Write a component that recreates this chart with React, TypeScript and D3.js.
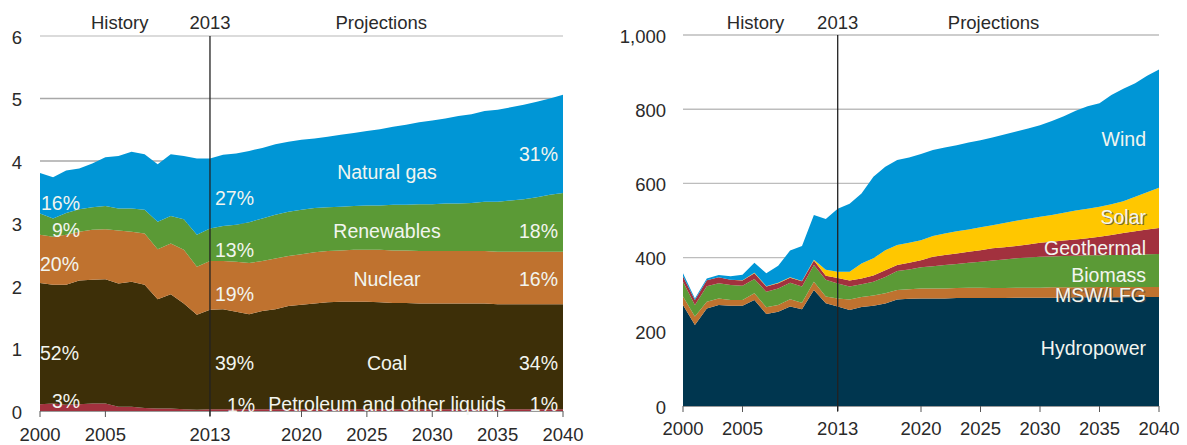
import React, { useRef, useEffect } from 'react';
import * as d3 from 'd3';

// years 2000-2040 (history to 2013, projections after)
const years = d3.range(2000, 2041);

// left panel: electricity generation by fuel (trillion kWh)
const petroleum = [0.11, 0.12, 0.10, 0.11, 0.12, 0.12, 0.07, 0.07, 0.05, 0.04, 0.04, 0.03, 0.02, 0.03,
  0.03, 0.03, 0.03, 0.03, 0.03, 0.03, 0.03, 0.03, 0.03, 0.03, 0.03, 0.03, 0.03, 0.03, 0.03, 0.03, 0.03,
  0.03, 0.03, 0.03, 0.03, 0.03, 0.03, 0.03, 0.03, 0.03, 0.03];
const coal = [1.94, 1.90, 1.92, 1.98, 1.98, 1.99, 1.97, 2.00, 1.97, 1.75, 1.83, 1.69, 1.52, 1.59,
  1.60, 1.56, 1.52, 1.57, 1.60, 1.65, 1.67, 1.69, 1.71, 1.72, 1.72, 1.72, 1.71, 1.70, 1.70, 1.69, 1.69,
  1.69, 1.69, 1.69, 1.69, 1.68, 1.68, 1.68, 1.68, 1.68, 1.68];
const nuclear = [0.77, 0.77, 0.80, 0.78, 0.80, 0.80, 0.85, 0.80, 0.82, 0.80, 0.81, 0.86, 0.77, 0.78,
  0.77, 0.80, 0.82, 0.80, 0.81, 0.80, 0.81, 0.82, 0.82, 0.82, 0.83, 0.83, 0.84, 0.84, 0.84, 0.84, 0.84,
  0.84, 0.84, 0.84, 0.84, 0.84, 0.84, 0.84, 0.84, 0.84, 0.84];
const renewables = [0.34, 0.29, 0.35, 0.36, 0.36, 0.37, 0.35, 0.37, 0.38, 0.44, 0.44, 0.49, 0.51, 0.52,
  0.56, 0.59, 0.65, 0.68, 0.70, 0.71, 0.71, 0.71, 0.70, 0.70, 0.70, 0.71, 0.71, 0.73, 0.73, 0.75, 0.75,
  0.76, 0.76, 0.77, 0.79, 0.80, 0.82, 0.84, 0.87, 0.91, 0.94];
const naturalGas = [0.65, 0.66, 0.68, 0.65, 0.70, 0.78, 0.84, 0.91, 0.89, 0.92, 0.99, 1.01, 1.22, 1.12,
  1.14, 1.14, 1.14, 1.13, 1.13, 1.12, 1.12, 1.11, 1.13, 1.15, 1.17, 1.19, 1.22, 1.25, 1.28, 1.31, 1.34,
  1.36, 1.40, 1.42, 1.45, 1.47, 1.49, 1.51, 1.53, 1.54, 1.57];

// right panel: renewable generation by type (billion kWh)
const hydropower = [272, 218, 263, 272, 270, 270, 286, 248, 254, 268, 261, 313, 277, 268,
  259, 267, 270, 276, 287, 289, 290, 290, 290, 291, 291, 291, 291, 291, 292, 292, 292,
  292, 292, 293, 293, 293, 293, 293, 294, 294, 294];
const mswLfg = [23, 23, 18, 18, 16, 16, 18, 18, 18, 20, 17, 22, 18, 22,
  28, 27, 28, 28, 26, 26, 27, 27, 27, 27, 28, 28, 27, 27, 27, 27, 27,
  28, 28, 27, 27, 28, 28, 28, 27, 27, 27];
const biomass = [40, 31, 42, 41, 40, 38, 38, 42, 45, 44, 44, 45, 45, 40,
  35, 34, 37, 44, 51, 53, 57, 60, 63, 65, 67, 70, 74, 77, 79, 81, 83,
  83, 84, 85, 86, 85, 86, 86, 87, 88, 89];
const geothermal = [15, 14, 16, 16, 14, 14, 16, 14, 14, 14, 14, 12, 11, 15,
  16, 16, 17, 18, 16, 18, 19, 25, 27, 28, 30, 31, 33, 33, 33, 35, 38,
  40, 42, 44, 46, 50, 54, 59, 63, 67, 70];
const solar = [0, 0, 0, 0, 0, 1, 1, 1, 1, 1, 1, 2, 16, 17,
  24, 40, 46, 54, 54, 54, 54, 56, 58, 60, 60, 62, 62, 65, 68, 70, 70,
  72, 75, 78, 80, 81, 83, 86, 93, 100, 108];
const wind = [8, 4, 5, 6, 10, 15, 27, 35, 46, 72, 94, 121, 137, 170,
  183, 189, 220, 225, 229, 230, 232, 232, 232, 232, 234, 234, 237, 239, 241, 243, 247,
  253, 260, 269, 276, 279, 294, 303, 306, 314, 319];

const leftSeries = [
  { key: 'petroleum', values: petroleum, color: '#a2313e' },
  { key: 'coal', values: coal, color: '#3d2f08' },
  { key: 'nuclear', values: nuclear, color: '#bf722f' },
  { key: 'renewables', values: renewables, color: '#5b9a36' },
  { key: 'naturalGas', values: naturalGas, color: '#0096d6' },
];
const rightSeries = [
  { key: 'hydropower', values: hydropower, color: '#00364f' },
  { key: 'mswLfg', values: mswLfg, color: '#bf722f' },
  { key: 'biomass', values: biomass, color: '#5b9a36' },
  { key: 'geothermal', values: geothermal, color: '#a2313e' },
  { key: 'solar', values: solar, color: '#ffc700' },
  { key: 'wind', values: wind, color: '#0096d6' },
];

const leftTicks = [0, 1, 2, 3, 4, 5, 6];
const rightTicks = [0, 200, 400, 600, 800, 1000];
const xTicks = [2000, 2005, 2013, 2020, 2025, 2030, 2035, 2040];

const FONT = '"Liberation Sans", Arial, sans-serif';
const DARK = '#2a2a2a';
const LABEL = '#f2f5ef';

const App = () => {
  const svgRef = useRef(null);

  useEffect(() => {
    const svg = d3.select(svgRef.current);
    svg.selectAll('*').remove();

    const drawPanel = (cfg) => {
      const { series, x, y, ticks, tickFormat, yLabelX, xLabelY, gridColor } = cfg;
      const g = svg.append('g');
      const rows = years.map((yr, i) => {
        const r = { year: yr };
        series.forEach(s => { r[s.key] = s.values[i]; });
        return r;
      });

      // gridlines
      ticks.filter(t => t > 0).forEach(t => {
        g.append('line')
          .attr('x1', x(2000)).attr('x2', x(2040))
          .attr('y1', y(t)).attr('y2', y(t))
          .attr('stroke', gridColor(t)).attr('stroke-width', 1.4);
      });

      const stack = d3.stack().keys(series.map(s => s.key))(rows);
      const area = d3.area()
        .x(d => x(d.data.year))
        .y0(d => y(d[0]))
        .y1(d => y(d[1]));
      g.selectAll('.layer')
        .data(stack)
        .enter()
        .append('path')
        .attr('d', area)
        .attr('fill', (d, i) => series[i].color);

      // bottom axis
      g.append('line')
        .attr('x1', x(2000)).attr('x2', x(2040))
        .attr('y1', y(0) + 0.5).attr('y2', y(0) + 0.5)
        .attr('stroke', '#999').attr('stroke-width', 1);
      xTicks.forEach(t => {
        g.append('line')
          .attr('x1', x(t)).attr('x2', x(t))
          .attr('y1', y(0)).attr('y2', y(0) + 6)
          .attr('stroke', '#555').attr('stroke-width', 1);
        g.append('text')
          .attr('x', x(t)).attr('y', xLabelY)
          .attr('text-anchor', 'middle').attr('dominant-baseline', 'central')
          .attr('font-family', FONT).attr('font-size', 18.5).attr('fill', DARK)
          .text(t);
      });

      ticks.forEach(t => {
        g.append('text')
          .attr('x', yLabelX).attr('y', y(t) + 1)
          .attr('text-anchor', 'end').attr('dominant-baseline', 'central')
          .attr('font-family', FONT).attr('font-size', 18.5).attr('fill', DARK)
          .text(tickFormat(t));
      });

      // 2013 divider
      g.append('line')
        .attr('x1', x(2013)).attr('x2', x(2013))
        .attr('y1', y(ticks[ticks.length - 1])).attr('y2', y(0) + 5)
        .attr('stroke', '#222').attr('stroke-width', 1.3);

      const header = [['History', 2006.1], ['2013', 2013], ['Projections', 2026.1]];
      header.forEach(([txt, yr]) => {
        g.append('text')
          .attr('x', x(yr)).attr('y', 22)
          .attr('text-anchor', 'middle').attr('dominant-baseline', 'central')
          .attr('font-family', FONT).attr('font-size', 18.5).attr('fill', DARK)
          .text(txt);
      });
      return g;
    };

    const label = (g, txt, px, py, anchor, shadow = false) => {
      if (shadow) {
        g.append('text')
          .attr('x', px + 1.2).attr('y', py + 1.2)
          .attr('text-anchor', anchor).attr('dominant-baseline', 'central')
          .attr('font-family', FONT).attr('font-size', 19.5).attr('fill', '#444').attr('opacity', 0.7)
          .text(txt);
      }
      g.append('text')
        .attr('x', px).attr('y', py)
        .attr('text-anchor', anchor).attr('dominant-baseline', 'central')
        .attr('font-family', FONT).attr('font-size', 19.5).attr('fill', LABEL)
        .text(txt);
    };

    // left panel
    const xL = d3.scaleLinear().domain([2000, 2040]).range([40, 563]);
    const yL = d3.scaleLinear().domain([0, 6]).range([411, 36]);
    const gL = drawPanel({
      series: leftSeries, x: xL, y: yL, ticks: leftTicks,
      tickFormat: d3.format('d'), yLabelX: 22, xLabelY: 434,
      gridColor: t => (t === 6 ? '#cfcfcf' : '#a8a8a8'),
    });
    label(gL, '16%', 41, 203, 'start');
    label(gL, '9%', 52, 230, 'start');
    label(gL, '20%', 40, 264, 'start');
    label(gL, '52%', 40, 353, 'start');
    label(gL, '3%', 52, 401, 'start');
    label(gL, '27%', 215, 198, 'start');
    label(gL, '13%', 215, 250, 'start');
    label(gL, '19%', 215, 294, 'start');
    label(gL, '39%', 215, 363, 'start');
    label(gL, '1%', 227, 405, 'start');
    label(gL, 'Natural gas', 387, 172, 'middle');
    label(gL, 'Renewables', 387, 231, 'middle');
    label(gL, 'Nuclear', 387, 279, 'middle');
    label(gL, 'Coal', 387, 363, 'middle');
    label(gL, 'Petroleum and other liquids', 387, 404, 'middle');
    label(gL, '31%', 558, 154, 'end');
    label(gL, '18%', 558, 231, 'end');
    label(gL, '16%', 558, 279, 'end');
    label(gL, '34%', 558, 363, 'end');
    label(gL, '1%', 558, 404, 'end');

    // right panel
    const xR = d3.scaleLinear().domain([2000, 2040]).range([683, 1159]);
    const yR = d3.scaleLinear().domain([0, 1000]).range([406, 35]);
    const gR = drawPanel({
      series: rightSeries, x: xR, y: yR, ticks: rightTicks,
      tickFormat: d3.format(','), yLabelX: 666, xLabelY: 428,
      gridColor: () => '#bdbdbd',
    });
    label(gR, 'Wind', 1146, 139, 'end');
    label(gR, 'Solar', 1146, 217, 'end', true);
    label(gR, 'Geothermal', 1146, 248, 'end');
    label(gR, 'Biomass', 1146, 275, 'end');
    label(gR, 'MSW/LFG', 1146, 295, 'end', true);
    label(gR, 'Hydropower', 1146, 348, 'end');
  }, []);

  return (
    <svg ref={svgRef} width={1187} height={445}
      style={{ position: 'absolute', left: 0, top: 0, background: '#fff' }}></svg>
  );
};

export default App;
